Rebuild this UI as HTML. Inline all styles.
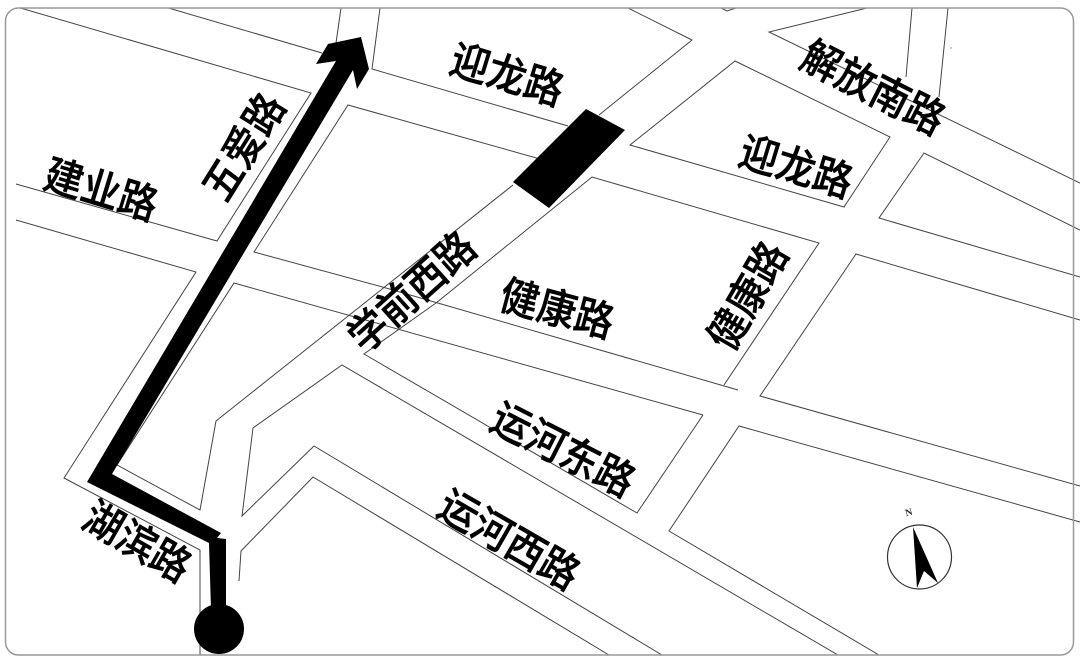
<!DOCTYPE html>
<html><head><meta charset="utf-8"><style>
html,body{margin:0;padding:0;background:#fff;width:1080px;height:667px;overflow:hidden}
svg{display:block}
.r{fill:none;stroke:#444;stroke-width:1}
.t{font-family:"Liberation Sans","Noto Sans CJK SC",sans-serif;font-size:42px;font-weight:500;fill:#000;stroke:#000;stroke-width:.5px;text-anchor:middle;dominant-baseline:central}
</style></head><body>
<svg width="1080" height="667" viewBox="0 0 1080 667" xmlns="http://www.w3.org/2000/svg">
<defs><clipPath id="c"><rect x="0" y="8" width="1080" height="647"/></clipPath></defs>
<g clip-path="url(#c)">
<g class="r">
<polyline points="17,7 311,93 217,241 16,184"/>
<polyline points="165,7 322,53"/>
<polyline points="341,8 336,43"/>
<polyline points="380,8 372,69 568,126"/>
<polyline points="540,159 348,105 254,252 386,288"/>
<polyline points="16,220 196,272 64,478 200,550 200,655"/>
<polyline points="703,415 234,283 117,465 200,510 216,421 513,185"/>
<polyline points="703,415 637,513 364,354 436,303"/>
<polyline points="838,655 342,365 253,428 242,516 314,446 662,655"/>
<polyline points="239,581 241,551 313,477 609,655"/>
<polyline points="386,288 738,390"/>
<polyline points="724,385 819,243 592,177 436,303"/>
<polyline points="628,8 692,40 599,115"/>
<polyline points="721,8 727,11 736,8"/>
<polyline points="867,8 769,32 1080,183"/>
<polyline points="912,8 906,77"/>
<polyline points="948,8 939,97"/>
<polygon points="735,61 890,137 844,207 630,145"/>
<polyline points="1080,230 924,153 879,218 1080,277"/>
<polyline points="1080,320 856,254 760,396 1080,486"/>
<polyline points="1080,522 739,426 669,531 879,655"/>
</g>
<polygon points="586,109 625,130 549,208 513,182" fill="#000"/>
<polygon points="361,37 369,69 357,89 353,70 112,474 221,533 217,538 226,539 226,610 211,610 209,543 87,482 336,61 316,64 328,44" fill="#000"/>
<circle cx="219" cy="629" r="25" fill="#000"/>
</g>
<rect x="5.5" y="8" width="1068" height="647" rx="13" ry="13" fill="none" stroke="#999" stroke-width="1.5"/>
<text class="t" transform="translate(507,75) rotate(17) scale(.92,1)">迎龙路</text>
<text class="t" transform="translate(796,167) rotate(17) scale(.92,1)">迎龙路</text>
<text class="t" transform="translate(873,88) rotate(27) scale(.92,1)">解放南路</text>
<text class="t" transform="translate(244,147) rotate(-58) scale(.92,1)">五爱路</text>
<text class="t" transform="translate(101,190) rotate(17) scale(.92,1)">建业路</text>
<text class="t" transform="translate(412,292) rotate(-42) scale(.92,1)">学前西路</text>
<text class="t" transform="translate(557,309) rotate(15) scale(.92,1)">健康路</text>
<text class="t" transform="translate(748,296) rotate(-60) scale(.92,1)">健康路</text>
<text class="t" transform="translate(563,450) rotate(27) scale(.92,1)">运河东路</text>
<text class="t" transform="translate(509,540) rotate(30) scale(.92,1)">运河西路</text>
<text class="t" transform="translate(137,542) rotate(30) scale(.92,1)">湖滨路</text>
<circle cx="919.5" cy="557" r="32" fill="none" stroke="#333" stroke-width="1.2"/>
<polygon points="913,527 938,583 924,571 917,588" fill="#000"/>
<text transform="translate(909,513) rotate(-15)" style="font-family:'Liberation Serif',serif;font-size:10px;font-weight:bold;fill:#333;text-anchor:middle;dominant-baseline:central">N</text>
<circle cx="951" cy="48" r="0.6" fill="#444"/>
</svg>
</body></html>
